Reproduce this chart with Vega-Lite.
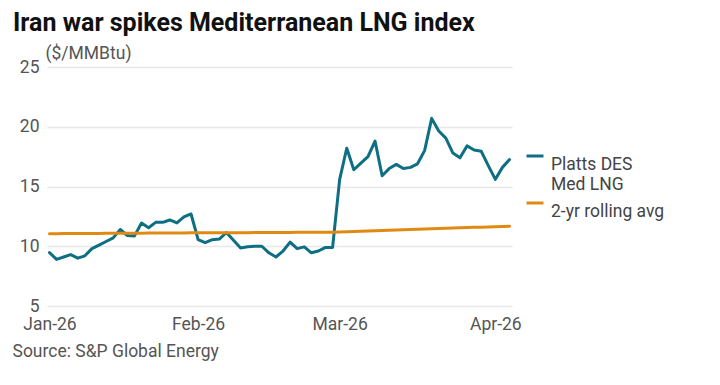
{
  "$schema": "https://vega.github.io/schema/vega-lite/v6.json",
  "autosize": {"type": "none"},
  "width": 465,
  "height": 239,
  "padding": {"left": 47, "top": 67, "right": 208, "bottom": 79},
  "background": "white",
  "title": {
    "text": "Iran war spikes Mediterranean LNG index",
    "anchor": "start",
    "frame": "group",
    "dx": -34,
    "dy": 12,
    "font": "Roboto",
    "fontSize": 25,
    "fontWeight": "bold",
    "color": "#111111",
    "baseline": "alphabetic",
    "offset": 0
  },
  "data": {
    "values": [
      {"d": "2026-01-02", "platts": 9.47, "avg": 11.05},
      {"d": "2026-01-05", "platts": 8.9, "avg": 11.05},
      {"d": "2026-01-06", "platts": 9.1, "avg": 11.06},
      {"d": "2026-01-07", "platts": 9.3, "avg": 11.06},
      {"d": "2026-01-08", "platts": 9.0, "avg": 11.06},
      {"d": "2026-01-09", "platts": 9.2, "avg": 11.07},
      {"d": "2026-01-12", "platts": 9.8, "avg": 11.07},
      {"d": "2026-01-13", "platts": 10.1, "avg": 11.07},
      {"d": "2026-01-14", "platts": 10.4, "avg": 11.08},
      {"d": "2026-01-15", "platts": 10.7, "avg": 11.08},
      {"d": "2026-01-16", "platts": 11.4, "avg": 11.08},
      {"d": "2026-01-19", "platts": 10.9, "avg": 11.09},
      {"d": "2026-01-20", "platts": 10.85, "avg": 11.09},
      {"d": "2026-01-21", "platts": 11.95, "avg": 11.09},
      {"d": "2026-01-22", "platts": 11.55, "avg": 11.1},
      {"d": "2026-01-23", "platts": 12.0, "avg": 11.1},
      {"d": "2026-01-26", "platts": 12.0, "avg": 11.1},
      {"d": "2026-01-27", "platts": 12.2, "avg": 11.11},
      {"d": "2026-01-28", "platts": 11.95, "avg": 11.11},
      {"d": "2026-01-29", "platts": 12.45, "avg": 11.11},
      {"d": "2026-01-30", "platts": 12.7, "avg": 11.12},
      {"d": "2026-02-02", "platts": 10.55, "avg": 11.12},
      {"d": "2026-02-03", "platts": 10.3, "avg": 11.12},
      {"d": "2026-02-04", "platts": 10.55, "avg": 11.13},
      {"d": "2026-02-05", "platts": 10.6, "avg": 11.13},
      {"d": "2026-02-06", "platts": 11.15, "avg": 11.13},
      {"d": "2026-02-09", "platts": 10.5, "avg": 11.14},
      {"d": "2026-02-10", "platts": 9.85, "avg": 11.14},
      {"d": "2026-02-11", "platts": 9.95, "avg": 11.14},
      {"d": "2026-02-12", "platts": 10.0, "avg": 11.15},
      {"d": "2026-02-13", "platts": 10.0, "avg": 11.15},
      {"d": "2026-02-16", "platts": 9.45, "avg": 11.15},
      {"d": "2026-02-17", "platts": 9.1, "avg": 11.16},
      {"d": "2026-02-18", "platts": 9.6, "avg": 11.16},
      {"d": "2026-02-19", "platts": 10.35, "avg": 11.16},
      {"d": "2026-02-20", "platts": 9.8, "avg": 11.17},
      {"d": "2026-02-23", "platts": 9.95, "avg": 11.17},
      {"d": "2026-02-24", "platts": 9.45, "avg": 11.17},
      {"d": "2026-02-25", "platts": 9.6, "avg": 11.18},
      {"d": "2026-02-26", "platts": 9.9, "avg": 11.18},
      {"d": "2026-02-27", "platts": 9.9, "avg": 11.18},
      {"d": "2026-03-02", "platts": 15.6, "avg": 11.2},
      {"d": "2026-03-03", "platts": 18.2, "avg": 11.22},
      {"d": "2026-03-04", "platts": 16.4, "avg": 11.24},
      {"d": "2026-03-05", "platts": 16.95, "avg": 11.26},
      {"d": "2026-03-06", "platts": 17.5, "avg": 11.28},
      {"d": "2026-03-09", "platts": 18.8, "avg": 11.3},
      {"d": "2026-03-10", "platts": 15.9, "avg": 11.32},
      {"d": "2026-03-11", "platts": 16.5, "avg": 11.34},
      {"d": "2026-03-12", "platts": 16.85, "avg": 11.36},
      {"d": "2026-03-13", "platts": 16.5, "avg": 11.38},
      {"d": "2026-03-16", "platts": 16.6, "avg": 11.4},
      {"d": "2026-03-17", "platts": 16.9, "avg": 11.42},
      {"d": "2026-03-18", "platts": 18.0, "avg": 11.44},
      {"d": "2026-03-19", "platts": 20.7, "avg": 11.46},
      {"d": "2026-03-20", "platts": 19.65, "avg": 11.48},
      {"d": "2026-03-23", "platts": 19.05, "avg": 11.5},
      {"d": "2026-03-24", "platts": 17.8, "avg": 11.52},
      {"d": "2026-03-25", "platts": 17.4, "avg": 11.54},
      {"d": "2026-03-26", "platts": 18.4, "avg": 11.56},
      {"d": "2026-03-27", "platts": 18.05, "avg": 11.58},
      {"d": "2026-03-30", "platts": 17.95, "avg": 11.6},
      {"d": "2026-03-31", "platts": 16.75, "avg": 11.62},
      {"d": "2026-04-01", "platts": 15.6, "avg": 11.64},
      {"d": "2026-04-02", "platts": 16.6, "avg": 11.66},
      {"d": "2026-04-03", "platts": 17.25, "avg": 11.68}
    ]
  },
  "transform": [
    {"fold": ["platts", "avg"], "as": ["key", "value"]}
  ],
  "mark": {"type": "line", "strokeWidth": 3, "strokeJoin": "round", "strokeCap": "round"},
  "encoding": {
    "x": {
      "field": "d",
      "type": "ordinal",
      "scale": {"type": "point", "padding": 0.35},
      "axis": {
        "values": ["2026-01-02", "2026-02-02", "2026-03-02", "2026-04-01"],
        "labelExpr": "datum.value == '2026-01-02' ? 'Jan-26' : datum.value == '2026-02-02' ? 'Feb-26' : datum.value == '2026-03-02' ? 'Mar-26' : 'Apr-26'",
        "labelAngle": 0,
        "labelFont": "Roboto",
        "labelFontSize": 17.5,
        "labelColor": "#555555",
        "labelPadding": 9,
        "domain": false,
        "ticks": false,
        "grid": false,
        "title": "Source: S&P Global Energy",
        "titleFont": "Roboto",
        "titleFontSize": 17.5,
        "titleFontWeight": "normal",
        "titleColor": "#555555",
        "titleAnchor": "start",
        "titleAlign": "left",
        "titleBaseline": "alphabetic",
        "titleX": -35,
        "titleY": 50
      }
    },
    "y": {
      "field": "value",
      "type": "quantitative",
      "scale": {"domain": [5, 25], "nice": false, "zero": false},
      "axis": {
        "values": [5, 10, 15, 20, 25],
        "labelFont": "Roboto",
        "labelFontSize": 17.5,
        "labelColor": "#555555",
        "labelPadding": 8,
        "labelOffset": 0,
        "domain": false,
        "ticks": false,
        "gridColor": "#e8e8e8",
        "gridWidth": 1.5,
        "title": "($/MMBtu)",
        "titleFont": "Roboto",
        "titleFontSize": 17.5,
        "titleFontWeight": "normal",
        "titleColor": "#555555",
        "titleAngle": 0,
        "titleAlign": "left",
        "titleBaseline": "alphabetic",
        "titleX": -2,
        "titleY": -9
      }
    },
    "color": {
      "field": "key",
      "type": "nominal",
      "scale": {"domain": ["platts", "avg"], "range": ["#0e6f84", "#e08a14"]},
      "legend": {
        "orient": "none",
        "legendX": 478,
        "legendY": 79,
        "title": null,
        "symbolType": "stroke",
        "symbolStrokeWidth": 3,
        "symbolSize": 289,
        "labelExpr": "datum.value == 'platts' ? ['Platts DES', 'Med LNG'] : '2-yr rolling avg'",
        "labelFont": "Roboto",
        "labelFontSize": 17.5,
        "labelColor": "#444444",
        "labelOffset": 6,
        "labelBaseline": "top",
        "labelLimit": 0,
        "rowPadding": 0
      }
    }
  },
  "config": {"view": {"stroke": null}}
}
